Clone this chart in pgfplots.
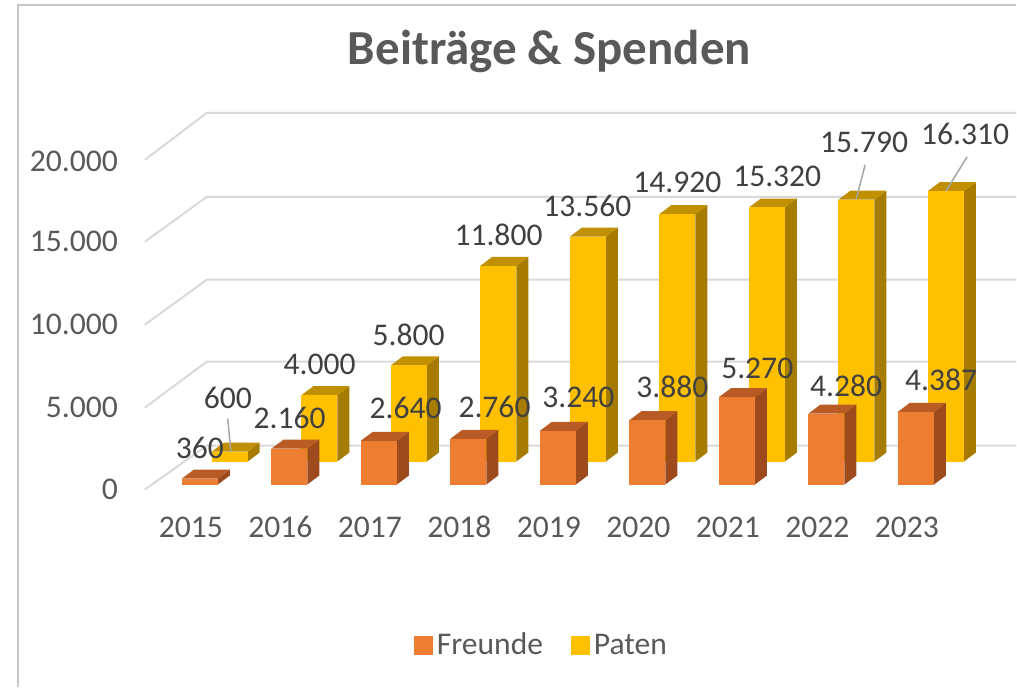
\documentclass[border=0pt]{standalone}
\usepackage{pgfplots}
\usepackage{pgfplotstable}
\pgfplotsset{compat=1.18}
\usepackage{fontspec}
\setmainfont{Carlito}

\definecolor{FrFront}{HTML}{ED7D31}
\definecolor{FrTop}{HTML}{B85B25}
\definecolor{FrSide}{HTML}{9D4B1D}
\definecolor{PaFront}{HTML}{FFC000}
\definecolor{PaTop}{HTML}{C09000}
\definecolor{PaSide}{HTML}{A57B00}
\definecolor{GridGray}{HTML}{D9D9D9}
\definecolor{TickGray}{HTML}{595959}
\definecolor{LabelGray}{HTML}{404040}
\definecolor{LeaderGray}{HTML}{A6A6A6}
\definecolor{FrameGray}{HTML}{C8C8C8}

\pgfplotstableread{
year F P
2015 360 600
2016 2160 4000
2017 2640 5800
2018 2760 11800
2019 3240 13560
2020 3880 14920
2021 5270 15320
2022 4280 15790
2023 4387 16310
}\beitraege

% label centres, in pixels of the original layout
\pgfplotstableread{
px py lab
200 448 360
290 418 2.160
406 408 2.640
495 407 2.760
579 398 3.240
673 387 3.880
758 369 5.270
847 386 4.280
942 380 4.387
}\labF
\pgfplotstableread{
px py lab
228 398 600
320 365 4.000
409 335 5.800
499 235 11.800
588 206 13.560
678 183 14.920
778 177 15.320
865 143 15.790
966 134 16.310
}\labP

% fake 3d geometry (x in categories, y in thousands)
\newcommand\hw{0.2009}
\newcommand\ddx{0.1339}
\newcommand\ddy{0.542}
\newcommand\ox{0.3348}
\newcommand\oy{1.386}

\newcommand\cuboid[6]{%
  \pgfmathsetmacro\xL{#1}%
  \pgfmathsetmacro\xR{\xL+2*\hw}%
  \pgfmathsetmacro\xLd{\xL+\ddx}%
  \pgfmathsetmacro\xRd{\xR+\ddx}%
  \pgfmathsetmacro\yB{#2}%
  \pgfmathsetmacro\yT{#3}%
  \pgfmathsetmacro\yBd{\yB+\ddy}%
  \pgfmathsetmacro\yTd{\yT+\ddy}%
  \edef\doit{%
    \noexpand\addplot[fill=#5,draw=none,forget plot] coordinates {(\xR,\yB) (\xRd,\yBd) (\xRd,\yTd) (\xR,\yT)} -- cycle;
    \noexpand\addplot[fill=#6,draw=none,forget plot] coordinates {(\xL,\yT) (\xR,\yT) (\xRd,\yTd) (\xLd,\yTd)} -- cycle;
    \noexpand\addplot[fill=#4,draw=none,forget plot] coordinates {(\xL,\yB) (\xR,\yB) (\xR,\yT) (\xL,\yT)} -- cycle;
  }\doit}

\newcommand\lblfont{\fontsize{15.8}{18}\selectfont}

\begin{document}
\begin{tikzpicture}
\begin{axis}[
  x=44.8pt, y=8.3pt,
  xmin=-0.6138, xmax=9.1183,
  ymin=-0.3, ymax=22.41,
  clip=false,
  axis line style={draw=none},
  major tick style={draw=none},
  xtick={-0.1,0.9,1.9,2.9,3.9,4.9,5.9,6.9,7.9},
  xticklabels={2015,2016,2017,2018,2019,2020,2021,2022,2023},
  ytick={-0.3,4.64,9.64,14.67,19.5},
  yticklabels={0,5.000,10.000,15.000,20.000},
  tick label style={font=\lblfont, text=TickGray},
  yticklabel style={xshift=-10pt},
  xticklabel style={yshift=-10pt, text height=10.5pt, text depth=0pt},
  legend style={draw=none, fill=none, at={(0.4564,-0.414)}, anchor=center,
    legend columns=2, font=\lblfont, text=TickGray,
    /tikz/every even column/.append style={column sep=12pt}},
]
% frame and page extent
\path (axis cs:-2.2321,-12.229) rectangle (axis cs:9.1183,29.217);
\draw[FrameGray, line width=1pt] (axis cs:-2.0313,-12.229) -- (axis cs:-2.0313,28.916) -- (axis cs:9.1183,28.916);

% side wall and back wall gridlines
\addplot[GridGray, line width=1pt, forget plot] coordinates {(-0.6138,-0.30) (0.078,2.35) (9.1183,2.35)};
\addplot[GridGray, line width=1pt, forget plot] coordinates {(-0.6138,4.64) (0.078,7.41) (9.1183,7.41)};
\addplot[GridGray, line width=1pt, forget plot] coordinates {(-0.6138,9.64) (0.078,12.35) (9.1183,12.35)};
\addplot[GridGray, line width=1pt, forget plot] coordinates {(-0.6138,14.64) (0.078,17.35) (9.1183,17.35)};
\addplot[GridGray, line width=1pt, forget plot] coordinates {(-0.6138,19.58) (0.078,22.41) (9.1183,22.41)};

% back row: Paten
\pgfplotsinvokeforeach{0,...,8}{%
  \pgfplotstablegetelem{#1}{P}\of\beitraege
  \pgfmathsetmacro\vtop{\pgfplotsretval/1000+\oy}%
  \cuboid{#1+\ox-\hw}{\oy}{\vtop}{PaFront}{PaSide}{PaTop}%
}
% front row: Freunde
\pgfplotsinvokeforeach{0,...,8}{%
  \pgfplotstablegetelem{#1}{F}\of\beitraege
  \pgfmathsetmacro\vtop{\pgfplotsretval/1000}%
  \cuboid{#1-\hw}{0}{\vtop}{FrFront}{FrSide}{FrTop}%
}

% leader lines
\addplot[LeaderGray, line width=0.75pt, forget plot] table[x expr={(\thisrow{px}-200)/89.6}, y expr={(485-\thisrow{py})/16.6}] {
px py
228 419
231 452
};
\addplot[LeaderGray, line width=0.75pt, forget plot] table[x expr={(\thisrow{px}-200)/89.6}, y expr={(485-\thisrow{py})/16.6}] {
px py
866 165
857 199
};
\addplot[LeaderGray, line width=0.75pt, forget plot] table[x expr={(\thisrow{px}-200)/89.6}, y expr={(485-\thisrow{py})/16.6}] {
px py
968 157
947 191
};

% data labels
\addplot[draw=none, mark=none, forget plot, nodes near coords, point meta=explicit symbolic,
  nodes near coords align={center},
  every node near coord/.append style={anchor=center, font=\lblfont, text=LabelGray}]
  table[x expr={(\thisrow{px}-200)/89.6}, y expr={(485-\thisrow{py})/16.6}, meta=lab] {\labF};
\addplot[draw=none, mark=none, forget plot, nodes near coords, point meta=explicit symbolic,
  nodes near coords align={center},
  every node near coord/.append style={anchor=center, font=\lblfont, text=LabelGray}]
  table[x expr={(\thisrow{px}-200)/89.6}, y expr={(485-\thisrow{py})/16.6}, meta=lab] {\labP};

% title
\node[font=\bfseries\fontsize{24.5}{28}\selectfont, text=TickGray] at (axis cs:3.906,26.1) {Beiträge \& Spenden};

\addlegendimage{legend image code/.code={\fill[FrFront] (0pt,-4.5pt) rectangle (9pt,4.5pt);}}
\addlegendentry{Freunde}
\addlegendimage{legend image code/.code={\fill[PaFront] (0pt,-4.5pt) rectangle (9pt,4.5pt);}}
\addlegendentry{Paten}
\end{axis}
\end{tikzpicture}
\end{document}
